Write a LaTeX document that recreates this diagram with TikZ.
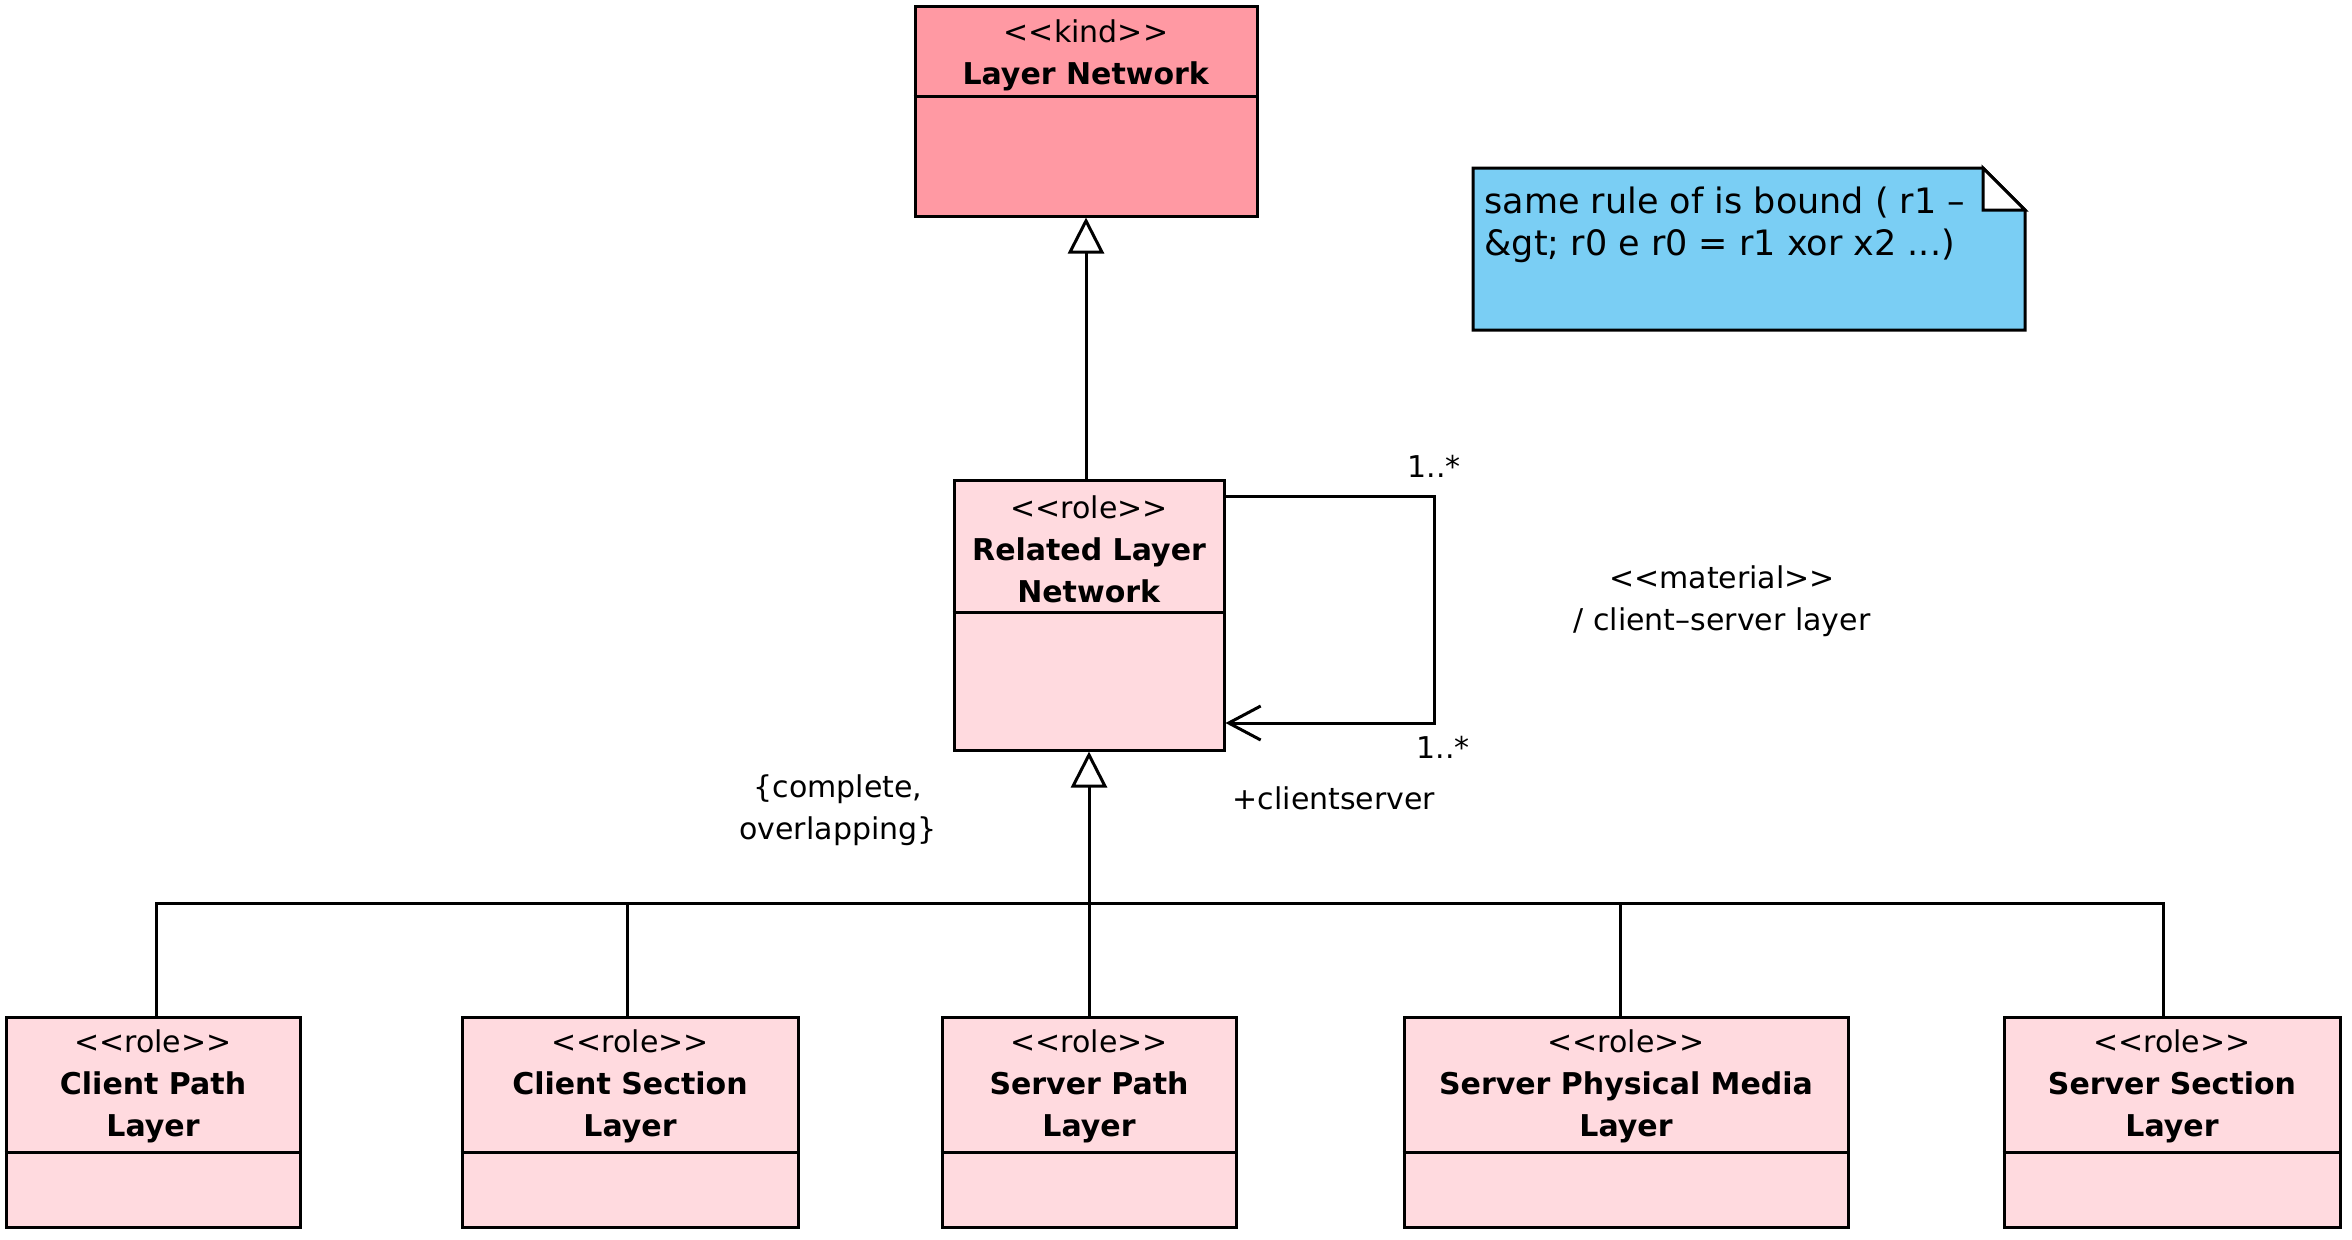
\documentclass[tikz,border=0pt]{standalone}
\usepackage{fontspec}
\setmainfont{DejaVu Sans}
\usetikzlibrary{arrows.meta}
\definecolor{kindpink}{RGB}{255,153,163}
\definecolor{rolepink}{RGB}{255,218,223}
\definecolor{noteblue}{RGB}{122,206,244}
\newcommand\stereo[1]{<\kern0pt<#1>\kern0pt>}
\begin{document}
\begin{tikzpicture}[x=0.5pt,y=-0.5pt,line width=1.5pt,
  classbox/.style={draw,inner sep=0pt,line width=1.5pt},
  classtext/.style={align=center,font=\fontsize{15}{21}\selectfont,inner sep=0pt},
  lbl/.style={align=center,font=\fontsize{15}{21}\selectfont,inner sep=0pt},
  notetext/.style={align=left,font=\fontsize{17.5}{21}\selectfont,inner sep=0pt},
  gen/.style={-{Triangle[open,length=18pt,width=18pt,fill=white]}},
  assoc/.style={-{Straight Barb[length=16pt,width=17pt]}}]
\useasboundingbox (0,0) rectangle (2352,1239);

% Layer Network
\node[classbox,fill=kindpink,minimum width=171pt,minimum height=105pt] (ln) at (1086,111) {};
\coordinate (lnd) at (0,96);
\draw (ln.west |- lnd) -- (ln.east |- lnd);
\node[classtext] (lnt) at (1086,55) {\stereo{kind}\\\textbf{Layer Network}};

% Related Layer Network
\node[classbox,fill=rolepink,minimum width=135pt,minimum height=135pt] (rln) at (1089,615) {};
\coordinate (rlnd) at (0,612);
\draw (rln.west |- rlnd) -- (rln.east |- rlnd);
\node[classtext] (rlnt) at (1089,549) {\stereo{role}\\\textbf{Related Layer}\\\textbf{Network}};

% bottom classes
\coordinate (bd) at (0,1152);
\foreach \nm/\cx/\w/\ttl in {cp/153/147/Client Path,cs/630/168/Client Section,sp/1089/147/Server Path,spm/1626/222/Server Physical Media,ss/2172/168/Server Section}{
  \node[classbox,fill=rolepink,minimum width=\w pt,minimum height=105pt] (\nm) at (\cx,1122) {};
  \draw (\nm.west |- bd) -- (\nm.east |- bd);
  \node[classtext] (\nm t) at (\cx,1086) {\stereo{role}\\\textbf{\ttl}\\\textbf{Layer}};
}

% generalization tree
\coordinate (b1) at (156,903);
\coordinate (b2) at (627,903);
\coordinate (b4) at (1620,903);
\coordinate (b5) at (2163,903);
\draw (b1 |- cp.north) -- (b1) -- (b5) -- (b5 |- ss.north);
\draw (b2 |- cs.north) -- (b2);
\draw (b4 |- spm.north) -- (b4);
\draw[gen] (sp.north) -- (rln.south);
\draw[gen] (ln.south |- rln.north) -- (ln.south);

% self association
\coordinate (lpa) at (1434,496);
\coordinate (lpb) at (1434,723);
\draw[assoc] (rln.east |- lpa) -- (lpa) -- (lpb) -- (rln.east |- lpb);

% labels
\node[lbl] (m1) at (1434,466) {1..*};
\node[lbl] (m2) at (1443,747) {1..*};
\node[lbl] (role) at (1334,798) {+clientserver};
\node[lbl] (mat) at (1722,601) {\stereo{material}\\/ client–server layer};
\node[lbl] (gs) at (838,810) {\{complete,\\overlapping\}};

% note
\coordinate (n1) at (1473,168);
\coordinate (n2) at (1983,168);
\coordinate (n3) at (2025,210);
\coordinate (n4) at (2025,330);
\coordinate (n5) at (1473,330);
\coordinate (n6) at (1983,210);
\draw[fill=noteblue] (n1) -- (n2) -- (n3) -- (n4) -- (n5) -- cycle;
\draw[fill=white,line join=miter] (n2) -- (n6) -- (n3) -- cycle;
\node[notetext,anchor=west] (nt) at (1483,225) {same rule of is bound ( r1 –\\\&gt; r0 e r0 = r1 xor x2 ...)};
\end{tikzpicture}
\end{document}
